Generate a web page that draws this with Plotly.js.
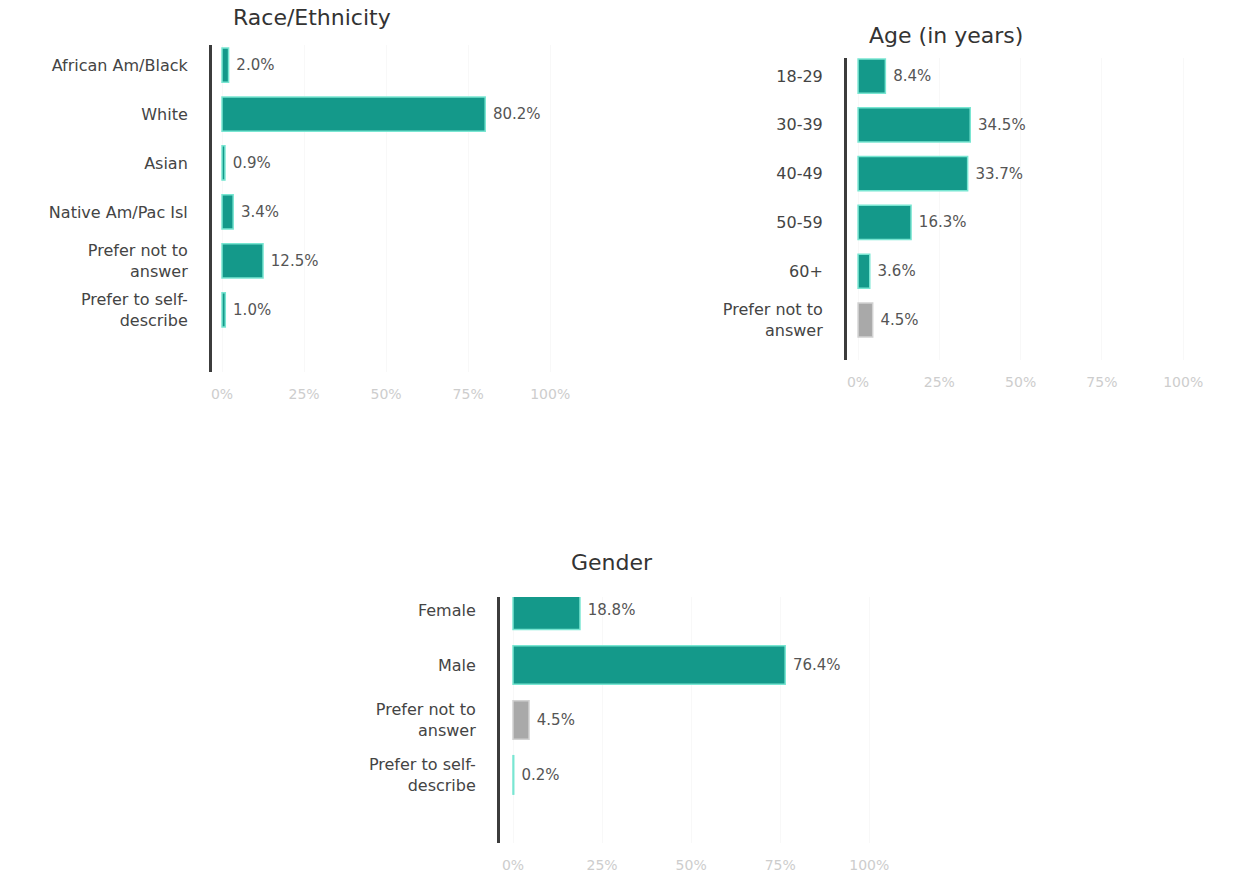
<!DOCTYPE html>
<html>
<head>
<meta charset="utf-8">
<script src="https://cdn.plot.ly/plotly-3.0.1.min.js"></script>
<style>html,body{margin:0;padding:0;background:#fff;}#chart{width:1242px;height:875px;}</style>
</head>
<body>
<div id="chart"></div>
<script>
// ---- data ----
const raceCats = ["African Am/Black", "White", "Asian", "Native Am/Pac Isl", "Prefer not to<br>answer", "Prefer to self-<br>describe"];
const raceVals = [2.0, 80.2, 0.9, 3.4, 12.5, 1.0];
const ageCats = ["18-29", "30-39", "40-49", "50-59", "60+", "Prefer not to<br>answer"];
const ageVals = [8.4, 34.5, 33.7, 16.3, 3.6, 4.5];
const genderCats = ["Female", "Male", "Prefer not to<br>answer", "Prefer to self-<br>describe"];
const genderVals = [18.8, 76.4, 4.5, 0.2];
const xTickVals = [0, 25, 50, 75, 100];
const xTickText = ["0%", "25%", "50%", "75%", "100%"];

// ---- styling ----
const W = 1242, H = 875;
const FONT = 'DejaVu Sans, Arial, sans-serif';
const TEAL = '#14998a', TEAL_LINE = '#79e6d2';
const GREY = '#a9a9a9', GREY_LINE = '#d2d2d2';

function colorsFor(cats, greyPreferNot) {
  return cats.map(c => (greyPreferNot && c.indexOf('Prefer not') === 0) ? GREY : TEAL);
}
function lineColorsFor(cats, greyPreferNot) {
  return cats.map(c => (greyPreferNot && c.indexOf('Prefer not') === 0) ? GREY_LINE : TEAL_LINE);
}
function barTrace(cats, vals, xa, ya, greyPreferNot) {
  return {
    type: 'bar', orientation: 'h', y: cats, x: vals, xaxis: xa, yaxis: ya,
    width: 0.7,
    marker: {color: colorsFor(cats, greyPreferNot), line: {color: lineColorsFor(cats, greyPreferNot), width: 1.5}},
    text: vals.map(v => '\u00a0' + v.toFixed(1) + '%'), textposition: 'outside', cliponaxis: false,
    textfont: {family: FONT, size: 15, color: '#555'},
    hoverinfo: 'skip', showlegend: false
  };
}
const px = (a, b) => [a / W, b / W];
const py = (top, bottom) => [1 - bottom / H, 1 - top / H];

function xAxis(dom, range, anchor) {
  return {domain: dom, range: range, anchor: anchor, tickvals: xTickVals, ticktext: xTickText,
    showgrid: true, gridcolor: '#f8f8f8', zeroline: false, showline: false, ticks: '',
    ticklabelstandoff: 12,
    tickfont: {family: FONT, size: 14, color: '#cdcdcd'}, fixedrange: true};
}
function yAxis(dom, cats, range, anchor) {
  return {domain: dom, range: range, anchor: anchor, type: 'category', categoryorder: 'array', categoryarray: cats,
    showline: true, linecolor: '#3c3c3c', linewidth: 3, ticks: '', showgrid: false, zeroline: false,
    ticklabelstandoff: 18,
    tickfont: {family: FONT, size: 16, color: '#444'}, fixedrange: true};
}

const data = [
  barTrace(raceCats, raceVals, 'x', 'y', false),
  barTrace(ageCats, ageVals, 'x2', 'y2', true),
  barTrace(genderCats, genderVals, 'x3', 'y3', true)
];

function title(text, cx, cy) {
  return {text: text, x: cx / W, y: 1 - cy / H, xref: 'paper', yref: 'paper', showarrow: false,
    xanchor: 'center', yanchor: 'middle', font: {family: FONT, size: 22, color: '#333'}};
}

const layout = {
  width: W, height: H, margin: {l: 0, r: 0, t: 0, b: 0},
  paper_bgcolor: '#fff', plot_bgcolor: '#fff', bargap: 0.3,
  xaxis: xAxis(px(212, 583), [-3.05, 110], 'y'),
  yaxis: yAxis(py(45, 372), raceCats, [6.27, -0.41], 'x'),
  xaxis2: xAxis(px(847, 1232), [-3.4, 115], 'y2'),
  yaxis2: yAxis(py(58, 360), ageCats, [5.82, -0.37], 'x2'),
  xaxis3: xAxis(px(500, 912), [-3.65, 112], 'y3'),
  yaxis3: yAxis(py(597, 843), genderCats, [4.24, -0.24], 'x3'),
  annotations: [
    title('Race/Ethnicity', 312, 17),
    title('Age (in years)', 946, 35),
    title('Gender', 612, 562)
  ]
};

Plotly.newPlot('chart', data, layout, {displayModeBar: false, staticPlot: true});
</script>
</body>
</html>
